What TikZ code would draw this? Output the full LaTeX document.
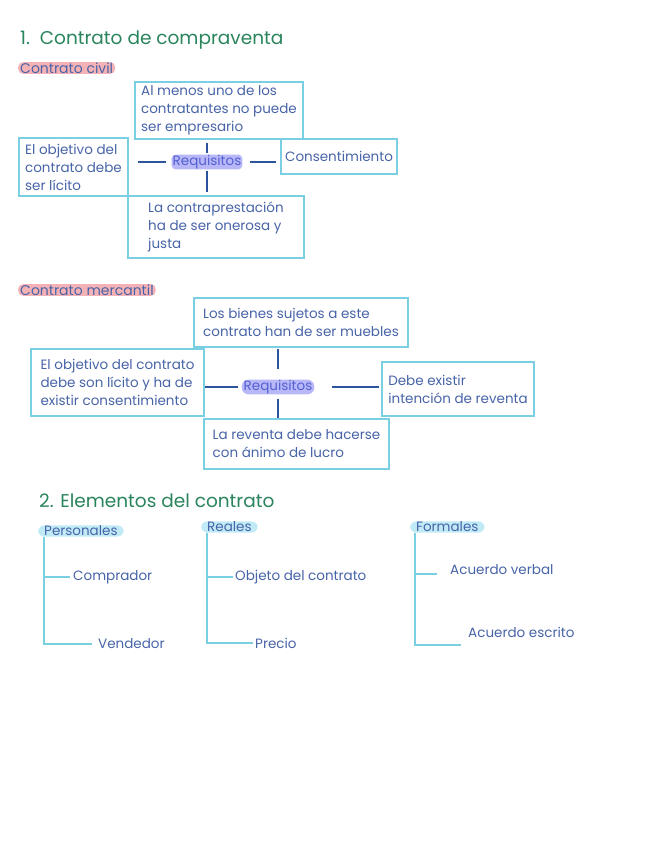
\documentclass[tikz,border=0pt]{standalone}
\usepackage{fontspec}
\setmainfont{Poppins}
\usetikzlibrary{positioning}

\definecolor{verdetit}{RGB}{42,132,92}
\definecolor{azultxt}{RGB}{72,100,168}
\definecolor{cian}{RGB}{122,208,226}
\definecolor{azulosc}{RGB}{44,84,156}
\definecolor{rosa}{RGB}{245,178,182}
\definecolor{lila}{RGB}{184,184,248}
\definecolor{celeste}{RGB}{192,234,246}
\definecolor{azulreq}{RGB}{84,96,210}

\newcommand{\cuerpo}{\fontsize{13.5}{18}\selectfont}

\tikzset{
  titulo/.style={anchor=west, text=verdetit, inner sep=0pt, font=\fontsize{18.5}{20}\selectfont},
  subtit/.style={anchor=west, text=azultxt, fill=rosa, rounded corners=5pt, inner xsep=2pt, inner ysep=0.5pt, font=\fontsize{14}{15}\selectfont},
  caja/.style={draw=cian, line width=1.8pt, text=azultxt, align=left, inner sep=2pt, font=\cuerpo},
  req/.style={text=azulreq, fill=lila, rounded corners=4pt, inner xsep=1pt, inner ysep=0.5pt, font=\fontsize{13.5}{14}\selectfont},
  linea/.style={draw=azulosc, line width=1.6pt},
  grupo/.style={anchor=west, text=azultxt, fill=celeste, rounded corners=6pt, inner xsep=6pt, inner ysep=0.5pt, font=\cuerpo},
  hoja/.style={anchor=west, text=azultxt, inner sep=0pt, font=\cuerpo},
  rama/.style={draw=cian, line width=1.6pt},
}

\begin{document}
\begin{tikzpicture}[x=1pt,y=-1pt]
\fill[white] (0,0) rectangle (656,848);
\path[use as bounding box] (0,0) rectangle (656,848);

% 1. contrato de compraventa
\node[titulo] (tit1) at (20,40) {1.\ \ Contrato de compraventa};
\node[subtit] (civil) at (18,68) {Contrato civil};

\node[caja, minimum width=168, minimum height=57] (arriba1) at (219,110.5)
  {Al menos uno de los\\contratantes no puede\\ser empresario};
\node[caja, minimum width=109, minimum height=58] (izq1) at (73.5,167)
  {El objetivo del\\contrato debe\\ser lícito};
\node[caja, minimum width=116, minimum height=35] (der1) at (339,156.5)
  {Consentimiento};
\node[caja, minimum width=176, minimum height=62] (abajo1) at (216,227)
  {La contraprestación\\ha de ser onerosa y\\justa};
\node[req] (req1) at (207,162) {Requisitos};

\draw[linea, shorten <=5pt, shorten >=9pt] (req1.west) -- (req1.west -| izq1.east);
\draw[linea, shorten <=7pt, shorten >=4pt] (req1.east) -- (req1.east -| der1.west);
\draw[linea, shorten <=1pt, shorten >=3pt] (req1.north) -- (req1.north |- arriba1.south);
\draw[linea, shorten <=1pt, shorten >=3pt] (req1.south) -- (req1.south |- abajo1.north);

% contrato mercantil
\node[subtit] (mercantil) at (18,290) {Contrato mercantil};

\node[caja, minimum width=214, minimum height=49] (arriba2) at (301,322.5)
  {Los bienes sujetos a este\\contrato han de ser muebles};
\node[caja, minimum width=173, minimum height=67] (izq2) at (117.5,382.5)
  {El objetivo del contrato\\debe son lícito y ha de\\existir consentimiento};
\node[caja, minimum width=152, minimum height=54] (der2) at (458,389)
  {Debe existir\\intención de reventa};
\node[caja, minimum width=185, minimum height=50] (abajo2) at (296.5,444)
  {La reventa debe hacerse\\con ánimo de lucro};
\node[req, rounded corners=7pt, inner xsep=2pt] (req2) at (278,387) {Requisitos};

\draw[linea, shorten <=3pt] (req2.west) -- (req2.west -| izq2.east);
\draw[linea, shorten <=17pt, shorten >=2pt] (req2.east) -- (req2.east -| der2.west);
\draw[linea, shorten <=10pt, shorten >=1pt] (req2.north) -- (req2.north |- arriba2.south);
\draw[linea, shorten <=4pt] (req2.south) -- (req2.south |- abajo2.north);

% 2. elementos del contrato
\node[titulo] (tit2) at (39,501) {2. Elementos del contrato};

\node[grupo] (pers) at (38,531) {Personales};
\node[hoja] (comp) at (73,577) {Comprador};
\node[hoja] (vend) at (98,644) {Vendedor};
\draw[rama] ([xshift=6pt]pers.south west) |- ([xshift=-6pt]vend.west);
\draw[rama] ([xshift=-29pt]comp.west) -- ([xshift=-3pt]comp.west);

\node[grupo] (real) at (201,527) {Reales};
\node[hoja] (objeto) at (235,577) {Objeto del contrato};
\node[hoja] (precio) at (255,643) {Precio};
\draw[rama] ([xshift=6pt]real.south west) |- ([xshift=-2pt]precio.west);
\draw[rama] ([xshift=-28pt]objeto.west) -- ([xshift=-2pt]objeto.west);

\node[grupo] (form) at (410,527) {Formales};
\node[hoja] (verbal) at (450,570) {Acuerdo verbal};
\node[hoja] (escrito) at (468,632) {Acuerdo escrito};
\draw[rama] ([xshift=5pt]form.south west) |- ([shift={(-7pt,-13pt)}]escrito.west);
\draw[rama] ([shift={(-35pt,-4pt)}]verbal.west) -- ([shift={(-13pt,-4pt)}]verbal.west);
\end{tikzpicture}
\end{document}
